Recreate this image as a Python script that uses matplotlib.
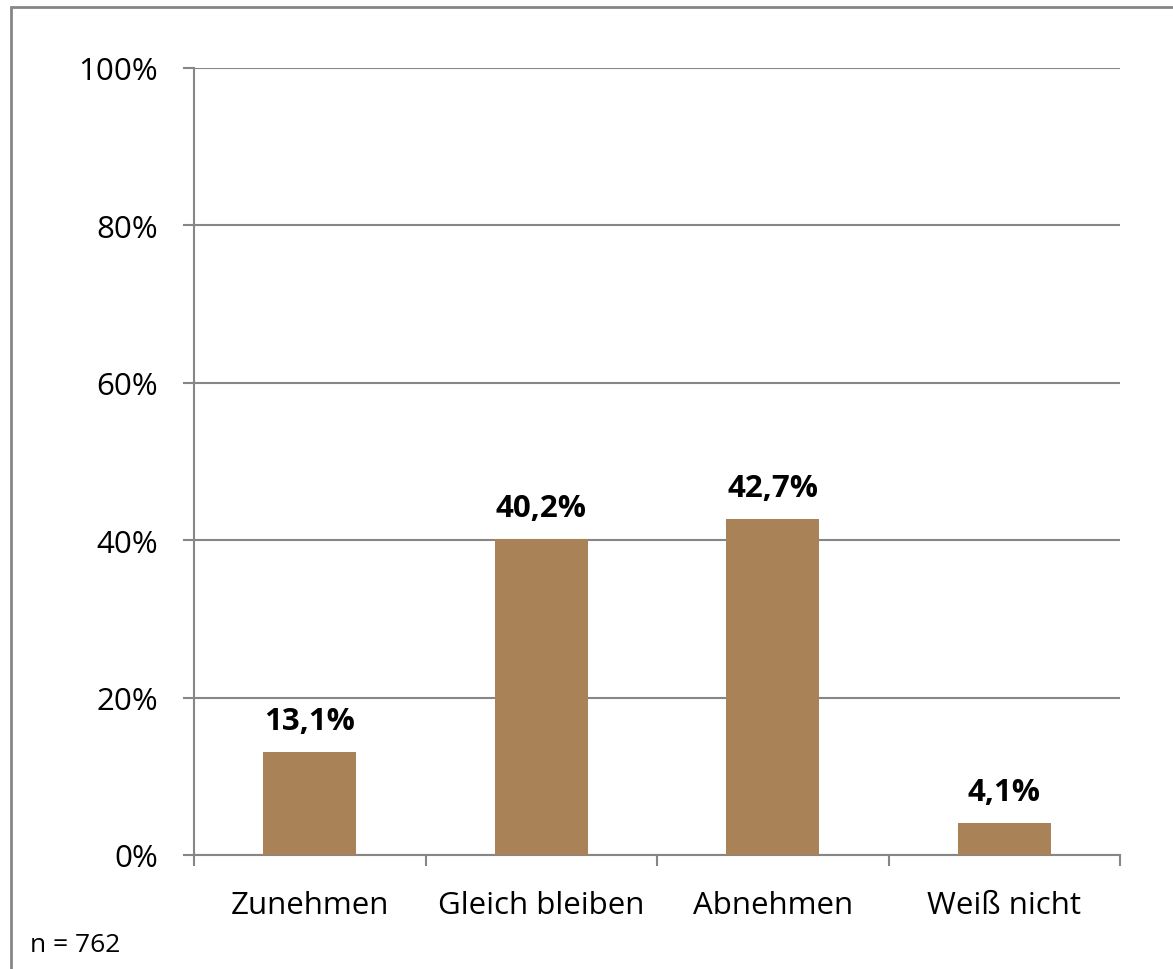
import matplotlib.pyplot as plt
from matplotlib.patches import Rectangle
from matplotlib.ticker import FixedLocator, FuncFormatter

categories = ["Zunehmen", "Gleich bleiben", "Abnehmen", "Weiß nicht"]
values = [13.1, 40.2, 42.7, 4.1]
y_ticks = [0, 20, 40, 60, 80, 100]
n_note = "n = 762"

bar_color = "#A98357"
grid_color = "#868686"

plt.rcParams['font.family'] = ['Open Sans', 'DejaVu Sans']

fig = plt.figure(figsize=(11.73, 9.70), dpi=100)
ax = fig.add_axes([194 / 1173, 1 - 856 / 970, 926 / 1173, 787 / 970])

x = list(range(len(categories)))
ax.bar(x, values, width=0.4, color=bar_color, zorder=3)

for xi, v in zip(x, values):
    ax.text(xi, v + 2.0, f"{v:.1f}%".replace(".", ","), ha="center", va="bottom",
            fontsize=22.5, fontweight="bold", color="black")

ax.set_xlim(-0.5, len(categories) - 0.5)
ax.set_ylim(0, 100)
ax.set_yticks(y_ticks)
ax.yaxis.set_major_formatter(FuncFormatter(lambda v, p: f"{int(v)}%"))
ax.yaxis.grid(True, color=grid_color, linewidth=1.5, zorder=0)

# category labels centered, ticks at category boundaries
ax.set_xticks(x)
ax.set_xticklabels(categories)
ax.tick_params(axis="x", which="major", length=0, pad=25, labelsize=22.5)
ax.xaxis.set_minor_locator(FixedLocator([i - 0.5 for i in range(len(categories) + 1)]))
ax.tick_params(axis="x", which="minor", length=8, width=1.5, color=grid_color)
ax.tick_params(axis="y", length=8, width=1.5, color=grid_color, pad=18, labelsize=22.5)

for s in ["top", "right"]:
    ax.spines[s].set_visible(False)
for s in ["left", "bottom"]:
    ax.spines[s].set_color(grid_color)
    ax.spines[s].set_linewidth(1.5)

fig.text(30 / 1173, 1 - 946 / 970, n_note, fontsize=19, va="center", ha="left")

# outer frame, running off the right and bottom edges
fig.add_artist(Rectangle((11 / 1173, -0.1), 1.2, 1 - 8 / 970 + 0.1, transform=fig.transFigure,
                         fill=False, edgecolor=grid_color, linewidth=2))

fig.savefig("out.png", dpi=100)
